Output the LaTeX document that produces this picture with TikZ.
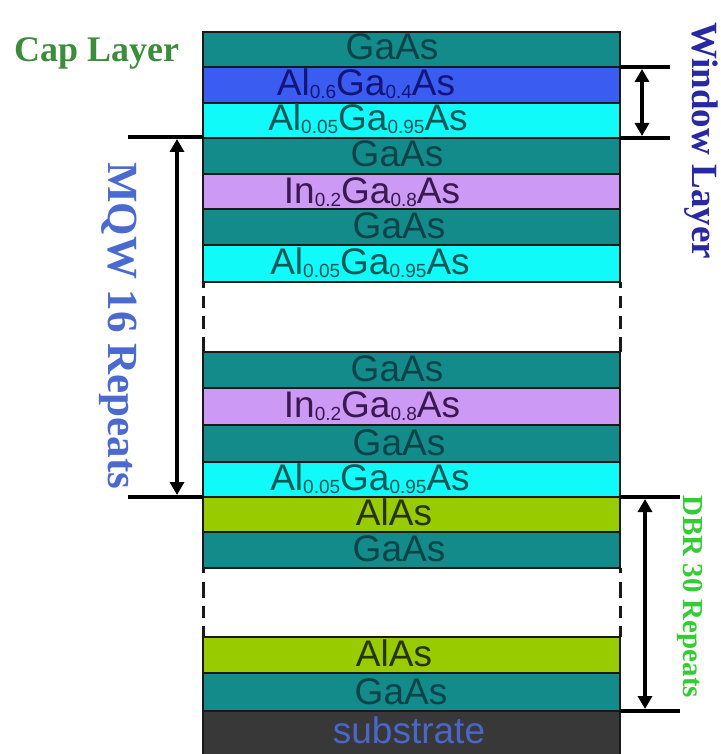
\documentclass[tikz,border=0pt]{standalone}
\usepackage{fontspec}
\setmainfont{Liberation Serif}
\newfontfamily\lsans{Liberation Sans}
\usetikzlibrary{arrows.meta}
\definecolor{cGaAs}{HTML}{138B8B}
\definecolor{cAlSix}{HTML}{3A5CF0}
\definecolor{cCyan}{HTML}{10FAFA}
\definecolor{cLav}{HTML}{CC99F5}
\definecolor{cLime}{HTML}{99CC00}
\definecolor{cSub}{HTML}{383838}
\definecolor{tGaAs}{HTML}{0B4448}
\definecolor{tAlSix}{HTML}{14147A}
\definecolor{tCyan}{HTML}{0A5858}
\definecolor{tLav}{HTML}{3A1850}
\definecolor{tLime}{HTML}{263400}
\definecolor{tSub}{HTML}{4A66C8}
\definecolor{lCap}{HTML}{3C8C3C}
\definecolor{lWin}{HTML}{2828A0}
\definecolor{lMqw}{HTML}{4A6AD0}
\definecolor{lDbr}{HTML}{33CC33}
\newcommand\lsub[1]{\raisebox{-3pt}{\fontsize{19}{19}\selectfont #1}}
\tikzset{
  lay/.style={draw=black!90, line width=2.5pt},
  lt/.style={anchor=base, inner sep=0pt, font=\lsans\fontsize{37}{37}\selectfont},
  rlab/.style={anchor=base west, inner sep=0pt, rotate=-90, font=\bfseries},
  tick/.style={line width=4pt, draw=black},
  dim/.style={line width=3.5pt, draw=black, {Triangle[length=13pt,width=14pt]}-{Triangle[length=13pt,width=14pt]}},
  gapd/.style={line width=3pt, draw=black!90}
}
\begin{document}
\begin{tikzpicture}[x=1pt,y=-1pt]
\useasboundingbox (0,0) rectangle (720,754);
% layers
\path[lay, fill=cGaAs]  (203,32) rectangle (620,67);
\path[lay, fill=cAlSix] (203,67) rectangle (620,103);
\path[lay, fill=cCyan]  (203,103) rectangle (620,138);
\path[lay, fill=cGaAs]  (203,138) rectangle (620,174);
\path[lay, fill=cLav]   (203,174) rectangle (620,209);
\path[lay, fill=cGaAs]  (203,209) rectangle (620,245);
\path[lay, fill=cCyan]  (203,245) rectangle (620,282);
\path[lay, fill=cGaAs]  (203,352) rectangle (620,388);
\path[lay, fill=cLav]   (203,388) rectangle (620,425);
\path[lay, fill=cGaAs]  (203,425) rectangle (620,462);
\path[lay, fill=cCyan]  (203,462) rectangle (620,497);
\path[lay, fill=cLime]  (203,497) rectangle (620,532);
\path[lay, fill=cGaAs]  (203,532) rectangle (620,568);
\path[lay, fill=cLime]  (203,637) rectangle (620,673);
\path[lay, fill=cGaAs]  (203,673) rectangle (620,711);
\path[lay, fill=cSub]   (203,711) rectangle (620,762);
% gap dashes
\foreach \xx in {203,620}{
  \draw[gapd] (\xx,282) -- (\xx,288);
  \draw[gapd] (\xx,296) -- (\xx,308);
  \draw[gapd] (\xx,316) -- (\xx,329);
  \draw[gapd] (\xx,337) -- (\xx,352);
  \draw[gapd] (\xx,568) -- (\xx,573);
  \draw[gapd] (\xx,582) -- (\xx,598);
  \draw[gapd] (\xx,606) -- (\xx,618);
  \draw[gapd] (\xx,626) -- (\xx,637);
}
% layer texts
\node[lt, text=tGaAs]  (t1) at (392,60) {GaAs};
\node[lt, text=tAlSix] (t2) at (366,96) {Al\lsub{0.6}Ga\lsub{0.4}As};
\node[lt, text=tCyan]  (t3) at (368,131) {Al\lsub{0.05}Ga\lsub{0.95}As};
\node[lt, text=tGaAs]  (t4) at (397,167) {GaAs};
\node[lt, text=tLav]   (t5) at (372,203) {In\lsub{0.2}Ga\lsub{0.8}As};
\node[lt, text=tGaAs]  (t6) at (399,238) {GaAs};
\node[lt, text=tCyan]  (t7) at (370,274) {Al\lsub{0.05}Ga\lsub{0.95}As};
\node[lt, text=tGaAs]  (t8) at (397,381) {GaAs};
\node[lt, text=tLav]   (t9) at (372,417) {In\lsub{0.2}Ga\lsub{0.8}As};
\node[lt, text=tGaAs]  (t10) at (399,455) {GaAs};
\node[lt, text=tCyan]  (t11) at (370,490) {Al\lsub{0.05}Ga\lsub{0.95}As};
\node[lt, text=tLime]  (t12) at (394,525) {AlAs};
\node[lt, text=tGaAs]  (t13) at (399,561) {GaAs};
\node[lt, text=tLime]  (t14) at (394,666) {AlAs};
\node[lt, text=tGaAs]  (t15) at (401,704) {GaAs};
\node[lt, text=tSub]   (t16) at (409,743) {substrate};
% tick lines and arrows
\coordinate (wa) at (620,67);  \coordinate (wa2) at (670,67);
\coordinate (wb) at (620,138); \coordinate (wb2) at (670,138);
\coordinate (ma) at (128,137); \coordinate (ma2) at (203,137);
\coordinate (mb) at (128,497); \coordinate (mb2) at (203,497);
\coordinate (da) at (620,497); \coordinate (da2) at (680,497);
\coordinate (db) at (620,711); \coordinate (db2) at (680,711);
\draw[tick] (wa) -- (wa2);
\draw[tick] (wb) -- (wb2);
\draw[tick] (ma) -- (ma2);
\draw[tick] (mb) -- (mb2);
\draw[tick] (da) -- (da2);
\draw[tick] (db) -- (db2);
\coordinate (warT) at (642,69); \coordinate (warB) at (642,136);
\coordinate (marT) at (177,139); \coordinate (marB) at (177,495);
\coordinate (darT) at (645,499); \coordinate (darB) at (645,709);
\draw[dim] (warT) -- (warB);
\draw[dim] (marT) -- (marB);
\draw[dim] (darT) -- (darB);
% labels
\node[anchor=base west, inner sep=0pt, font=\bfseries\fontsize{36}{36}\selectfont, text=lCap] (cap) at (14,62) {Cap Layer};
\node[rlab, font=\bfseries\fontsize{37}{37}\selectfont, text=lWin] (win) at (692,22) {Window Layer};
\node[rlab, font=\bfseries\fontsize{43}{43}\selectfont, text=lMqw] (mqw) at (108,162) {MQW 16 Repeats};
\node[rlab, font=\bfseries\fontsize{29}{29}\selectfont, text=lDbr] (dbr) at (683,495) {DBR 30 Repeats};
\end{tikzpicture}
\end{document}
